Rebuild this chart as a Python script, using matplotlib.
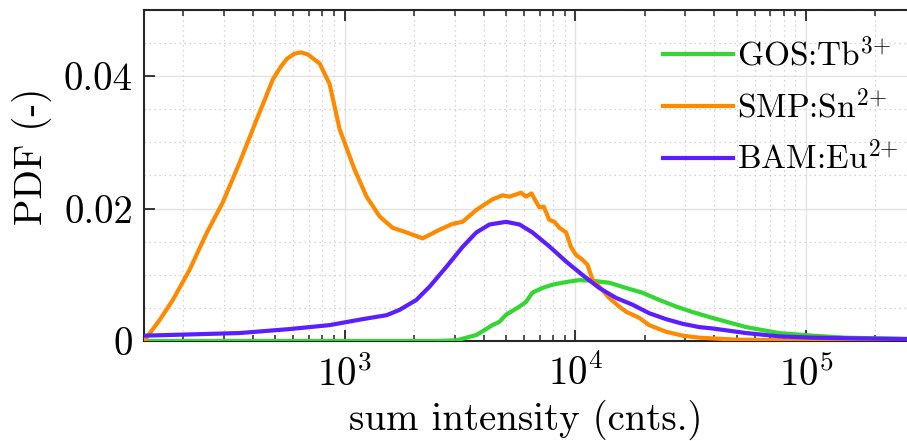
import matplotlib
matplotlib.use('Agg')
import matplotlib.pyplot as plt
from matplotlib.ticker import LogLocator, MultipleLocator, NullFormatter

plt.rcParams['font.family'] = 'serif'
plt.rcParams['font.serif'] = ['cmr10']
plt.rcParams['mathtext.fontset'] = 'cm'
plt.rcParams['axes.formatter.use_mathtext'] = True

# SMP:Sn2+ (orange)
smp_x = [135, 158, 180, 213, 253, 296, 351, 416, 451, 488, 528, 561, 605, 646, 692,
         780, 861, 951, 1104, 1245, 1419, 1614, 1854, 2178, 2576, 2938, 3243, 3724,
         4375, 4831, 5176, 5821, 6109, 6457, 6745, 6982, 7295, 7709, 8110, 8531, 9120,
         9572, 10070, 10715, 11298, 11885, 12706, 14028, 15488, 16634, 18923, 20893,
         24717, 29174, 34435, 50000, 100000, 274000]
smp_y = [0.0, 0.0032, 0.0062, 0.0108, 0.0164, 0.0209, 0.0270, 0.0335, 0.0365, 0.0395,
         0.0414, 0.0426, 0.0434, 0.0436, 0.0433, 0.0419, 0.0388, 0.0320, 0.0259, 0.0218,
         0.0188, 0.0171, 0.0164, 0.0155, 0.0168, 0.0177, 0.0180, 0.0198, 0.0214, 0.0220,
         0.0218, 0.0224, 0.0218, 0.0223, 0.0211, 0.0202, 0.0203, 0.0183, 0.0180, 0.0171,
         0.0164, 0.0142, 0.0130, 0.0123, 0.0115, 0.0092, 0.0082, 0.0065, 0.0052, 0.0044,
         0.0035, 0.0024, 0.0014, 0.0008, 0.0005, 0.0002, 0.00005, 0.0]

# BAM:Eu2+ (purple)
bam_x = [135, 351, 578, 861, 1197, 1521, 1730, 2046, 2333, 2761, 3243, 3724, 4246,
         5012, 5728, 6516, 7709, 9120, 10715, 12706, 15031, 17660, 20893, 24717,
         29174, 34435, 39174, 54954, 76384, 107152, 158489, 274000]
bam_y = [0.0008, 0.0012, 0.0018, 0.0024, 0.0033, 0.0039, 0.0047, 0.0062, 0.0082, 0.0112,
         0.0142, 0.0164, 0.0176, 0.0180, 0.0176, 0.0164, 0.0143, 0.0120, 0.0100, 0.0080,
         0.0065, 0.0055, 0.0042, 0.0033, 0.0026, 0.0021, 0.0019, 0.0012, 0.0007, 0.0005,
         0.0004, 0.0003]

# GOS:Tb3+ (green)
gos_x = [135, 2512, 3055, 3724, 4375, 4688, 5023, 5728, 6109, 6516, 7194, 7943, 9120,
         10399, 11885, 14028, 16634, 19498, 23121, 27353, 32063, 39174, 54954, 76384,
         107152, 147911, 274000]
gos_y = [0.0, 0.0, 0.0001, 0.0009, 0.0024, 0.0029, 0.0040, 0.0052, 0.0059, 0.0073,
         0.0080, 0.0085, 0.0089, 0.0092, 0.0091, 0.0088, 0.0080, 0.0073, 0.0062, 0.0052,
         0.0044, 0.0035, 0.0021, 0.0012, 0.0008, 0.0005, 0.0003]

fig = plt.figure(figsize=(9.07, 4.41), dpi=100)
ax = fig.add_axes([0.1588, 0.2268, 0.8412, 0.7505])

lw = 3.0
ax.plot(gos_x, gos_y, color='#33D633', lw=lw, label=r'GOS:Tb$^{3{+}}$', zorder=3)
ax.plot(smp_x, smp_y, color='#FF8A00', lw=lw, label=r'SMP:Sn$^{2{+}}$', zorder=3)
ax.plot(bam_x, bam_y, color='#5A1EFF', lw=lw, label=r'BAM:Eu$^{2{+}}$', zorder=3)

ax.set_xscale('log')
ax.set_xlim(135, 2.74e5)
ax.set_ylim(0, 0.05)
ax.set_yticks([0, 0.02, 0.04])
ax.set_yticklabels(['0', '0.02', '0.04'])
ax.yaxis.set_minor_locator(MultipleLocator(0.005))
ax.xaxis.set_major_locator(LogLocator(base=10))
ax.xaxis.set_minor_locator(LogLocator(base=10, subs=range(2, 10)))
ax.xaxis.set_minor_formatter(NullFormatter())

ax.grid(True, which='major', color='#e3e3e3', lw=1.0, ls='-')
ax.grid(True, which='minor', color='#c8c8c8', lw=0.9, ls=(0, (1, 3)))
ax.set_axisbelow(True)

ax.tick_params(axis='both', which='major', direction='in', length=8, width=1.3,
               labelsize=28, top=True, right=False, color='#262626')
ax.tick_params(axis='x', which='minor', direction='in', length=4.5, width=1.1,
               top=True, color='#262626')
ax.tick_params(axis='y', which='minor', length=0)
ax.tick_params(axis='x', which='major', pad=10)
ax.tick_params(axis='y', which='major', pad=8)

for s in ['left', 'bottom', 'top']:
    ax.spines[s].set_color('#262626')
    ax.spines[s].set_linewidth(1.5)
ax.spines['right'].set_visible(False)

ax.set_xlabel('sum intensity (cnts.)', fontsize=28, labelpad=4)
ax.set_ylabel('PDF (-)', fontsize=28)
ax.yaxis.set_label_coords(-0.121, 0.559)

ax.legend(loc='upper left', bbox_to_anchor=(0.680, 0.918), frameon=False, fontsize=24,
          handlelength=2.1, handletextpad=0.12, labelspacing=0.5,
          borderpad=0, borderaxespad=0)

fig.savefig('out.png', dpi=100)
